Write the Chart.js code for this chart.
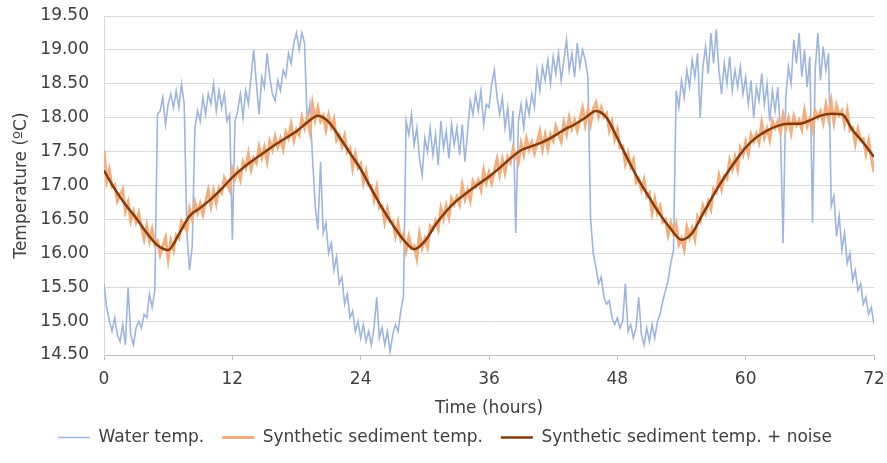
<!DOCTYPE html>
<html><head><meta charset="utf-8">
<script src="https://cdn.jsdelivr.net/npm/chart.js@4"></script>
<style>html,body{margin:0;padding:0;background:#fff}#wrap{width:887px;height:463px}</style>
</head><body><div id="wrap"><canvas id="c" width="887" height="463"></canvas></div>
<script>
// Sample step for the measured series (hours)
const sampleStepHours = 0.25;
const smoothStepHours = 1;

// Water temperature (ºC), every 0.25 h
const waterDay1 = [15.55,15.20,15.00,14.85,15.05,14.80,14.70,14.95,14.65,15.50,14.80,14.65,14.90,15.00,14.90,15.10,15.05,15.40,15.20,15.45,
  18.05,18.10,18.30,17.90,18.20,18.35,18.15,18.40,18.15,18.50,
  18.20,16.30,15.75,16.10,
  17.85,18.10,17.95,18.30,18.05,18.35,18.20,18.50,18.10,18.40,18.15,18.35,17.95,18.05,
  16.20,17.95,18.10,18.35,18.00,18.40,18.20,18.60,19.00,18.50,18.05,18.60,18.45,18.95,18.60,18.35,
  18.25,18.55,18.40,18.70,18.60,18.95,18.80,19.10,19.25,19.00,19.25,19.10,17.95,18.20,17.40,16.70,
  16.35,17.35,16.30,16.45,16.00,16.15,15.75,15.95,15.55,15.65,15.25,15.40,15.05,15.15,14.85,15.00];
const waterDay2 = [14.75,14.95,14.70,14.85,14.65,14.90,15.35,14.75,14.90,14.65,14.85,14.55,14.80,14.95,14.85,15.15,
  15.35,17.95,17.75,18.05,17.60,17.85,17.40,17.15,17.70,17.50,17.85,17.45,17.75,17.30,17.95,17.55,
  17.80,17.40,17.90,17.60,17.85,17.45,17.90,17.35,17.80,18.25,18.05,18.35,18.10,18.40,17.90,18.20,
  18.15,18.50,18.70,18.30,18.05,18.30,17.85,18.15,17.65,18.10,16.30,17.95,18.20,17.85,18.25,18.05,
  18.35,18.15,18.70,18.40,18.75,18.55,18.85,18.50,18.90,18.65,18.95,18.55,18.85,19.15,18.70,18.95,
  18.60,19.10,18.75,19.00,18.85,18.60,16.50,16.00,15.80,15.55,15.65,15.35,15.25,15.30,15.05,14.95];
const waterDay3 = [15.05,14.90,15.00,15.55,14.85,14.95,14.75,14.90,15.35,14.80,14.65,14.90,14.70,14.95,14.75,15.00,
  15.10,15.30,15.45,15.60,15.85,16.05,18.40,18.15,18.55,18.30,18.70,18.45,18.85,18.60,18.95,18.00,
  18.75,19.05,18.65,19.25,18.80,19.30,18.70,18.35,18.80,18.50,18.90,18.40,18.70,18.45,18.75,18.35,
  18.60,18.20,18.55,18.00,18.45,18.25,18.65,18.20,18.50,17.95,18.40,18.10,18.45,17.80,16.15,18.30,
  18.75,18.50,19.15,18.80,19.25,18.60,19.00,18.45,18.90,16.45,18.70,19.25,18.55,19.05,18.70,18.95,
  16.70,16.85,16.25,16.55,16.05,16.30,15.85,16.00,15.60,15.75,15.45,15.55,15.25,15.35,15.10,15.20,
  14.95];

// Synthetic sediment temperature (ºC), every 0.25 h
const sedimentDay1 = [17.52,17.07,17.23,16.98,17.01,16.77,16.86,16.94,16.62,16.75,16.48,16.62,16.46,16.59,16.39,16.21,
  16.40,16.18,16.35,16.13,16.18,15.98,16.11,16.23,15.91,16.19,16.05,16.27,16.22,16.47,16.40,16.33,
  16.65,16.50,16.75,16.60,16.73,16.58,16.76,16.93,16.70,16.92,16.74,16.96,16.89,17.11,17.02,16.93,
  17.24,17.10,17.23,17.09,17.35,17.26,17.47,17.24,17.40,17.33,17.57,17.41,17.56,17.36,17.65,17.53,
  17.72,17.57,17.69,17.54,17.79,17.70,17.90,17.67,17.82,17.75,18.00,17.85,18.00,17.80,18.20,17.97,
  18.15,17.95,18.03,17.82,18.03,17.86,17.98,17.67,17.74,17.58,17.73,17.49,17.55,17.26,17.46,17.26];
const sedimentDay2 = [17.32,17.04,17.21,17.00,17.00,16.79,16.97,16.67,16.70,16.46,16.65,16.47,16.48,16.26,16.45,16.20,
  16.28,16.04,16.24,16.08,16.11,15.93,16.28,16.08,16.21,16.09,16.40,16.35,16.48,16.36,16.66,16.51,
  16.70,16.53,16.81,16.72,16.83,16.72,17.00,16.80,16.93,16.78,17.06,16.98,17.08,16.94,17.22,17.04,
  17.19,17.04,17.22,17.39,17.16,17.38,17.19,17.42,17.34,17.55,17.44,17.34,17.62,17.46,17.69,17.53,
  17.64,17.48,17.63,17.79,17.54,17.74,17.54,17.75,17.66,17.87,17.75,17.65,17.92,17.76,18.00,17.84,
  17.96,17.81,17.97,18.14,17.90,18.11,17.91,18.13,18.22,18.02,18.15,18.01,18.06,17.81,17.94,17.68];
const sedimentDay3 = [17.82,17.56,17.58,17.32,17.47,17.28,17.38,17.05,17.10,16.94,17.08,16.84,16.89,16.60,16.80,16.59,
  16.69,16.46,16.50,16.27,16.45,16.29,16.43,16.13,16.22,16.06,16.38,16.23,16.37,16.21,16.54,16.47,
  16.70,16.59,16.76,16.65,16.95,16.90,17.14,16.95,17.14,17.10,17.37,17.24,17.42,17.24,17.55,17.45,
  17.64,17.47,17.75,17.65,17.76,17.64,17.92,17.71,17.84,17.68,17.95,17.85,17.94,17.78,18.04,17.84,
  17.99,17.78,18.02,17.89,17.96,17.83,18.10,17.88,17.99,17.83,18.10,18.00,18.09,17.93,18.19,17.99,
  18.24,17.94,18.18,18.04,18.10,17.90,18.10,17.81,17.85,17.62,17.83,17.67,17.69,17.47,17.66,17.41,
  17.20];

// Synthetic sediment temperature + noise (smooth curve, ºC), every 1 h
const sedimentNoiseDay1 = [17.22,16.95,16.72,16.52,16.30,16.12,16.05,16.28,16.55,16.67,16.80,16.95,
  17.12,17.26,17.38,17.49,17.60,17.70,17.80,17.93,18.03,17.94,17.72,17.48];
const sedimentNoiseDay2 = [17.24,16.95,16.67,16.42,16.20,16.06,16.18,16.42,16.62,16.78,16.90,17.02,
  17.13,17.26,17.40,17.52,17.58,17.64,17.72,17.82,17.90,18.00,18.10,18.00];
const sedimentNoiseDay3 = [17.70,17.38,17.08,16.82,16.57,16.36,16.20,16.30,16.58,16.86,17.12,17.35,
  17.56,17.71,17.81,17.88,17.91,17.91,17.96,18.03,18.06,18.05,17.82,17.63,17.42];

const seriesLabels = ['Water temp.', 'Synthetic sediment temp.', 'Synthetic sediment temp. + noise'];
const xTickStep = 12;
const yTickStep = 0.5;

const waterTemp = waterDay1.concat(waterDay2, waterDay3);
const sedimentTemp = sedimentDay1.concat(sedimentDay2, sedimentDay3);
const sedimentNoise = sedimentNoiseDay1.concat(sedimentNoiseDay2, sedimentNoiseDay3);

const toPoints = (vals, step) => vals.map((v, i) => ({x: i * step, y: v}));

const FONT = '"DejaVu Sans", Arial, sans-serif';
const TXT = '#404040';

new Chart(document.getElementById('c'), {
  type: 'line',
  data: {
    datasets: [
      {label: seriesLabels[0], data: toPoints(waterTemp, sampleStepHours), borderColor: '#9CB5E1', backgroundColor: '#9CB5E1', borderWidth: 1.6, pointRadius: 0, tension: 0, order: 3},
      {label: seriesLabels[1], data: toPoints(sedimentTemp, sampleStepHours), borderColor: '#F4AE7E', backgroundColor: '#F4AE7E', borderWidth: 3, pointRadius: 0, tension: 0, order: 2},
      {label: seriesLabels[2], data: toPoints(sedimentNoise, smoothStepHours), borderColor: '#843C0C', backgroundColor: '#843C0C', borderWidth: 2.5, pointRadius: 0, cubicInterpolationMode: 'monotone', order: 1}
    ]
  },
  options: {
    responsive: false,
    animation: false,
    devicePixelRatio: 1,
    layout: {padding: {top: 16, right: 13, left: 16, bottom: 7}},
    plugins: {
      tooltip: {enabled: false},
      legend: {
        position: 'bottom',
        labels: {
          usePointStyle: true, pointStyle: 'line', pointStyleWidth: 32,
          font: {size: 17, family: FONT}, color: TXT, padding: 18,
          sort: (a, b) => a.datasetIndex - b.datasetIndex
        }
      }
    },
    scales: {
      x: {
        type: 'linear', min: 0, max: 72,
        ticks: {stepSize: xTickStep, font: {size: 17, family: FONT}, color: TXT, padding: 9, maxRotation: 0},
        grid: {drawOnChartArea: false, drawTicks: true, tickLength: 5, color: '#bfbfbf'},
        border: {color: '#bfbfbf'},
        title: {display: true, text: 'Time (hours)', font: {size: 17, family: FONT}, color: TXT, padding: {top: 0, bottom: -8}},
        afterFit: s => { s.height = 56; s.paddingLeft = 0; s.paddingRight = 0; }
      },
      y: {
        min: 14.5, max: 19.5,
        ticks: {stepSize: yTickStep, font: {size: 17, family: FONT}, color: TXT, padding: 15, callback: v => Number(v).toFixed(2)},
        grid: {color: '#d9d9d9', drawTicks: false},
        border: {color: '#d9d9d9'},
        title: {display: true, text: 'Temperature (ºC)', font: {size: 17, family: FONT}, color: TXT, padding: {top: -5, bottom: 0}},
        afterFit: s => { s.width = 88; s.paddingTop = 0; s.paddingBottom = 0; }
      }
    }
  }
});
</script>
</body></html>
